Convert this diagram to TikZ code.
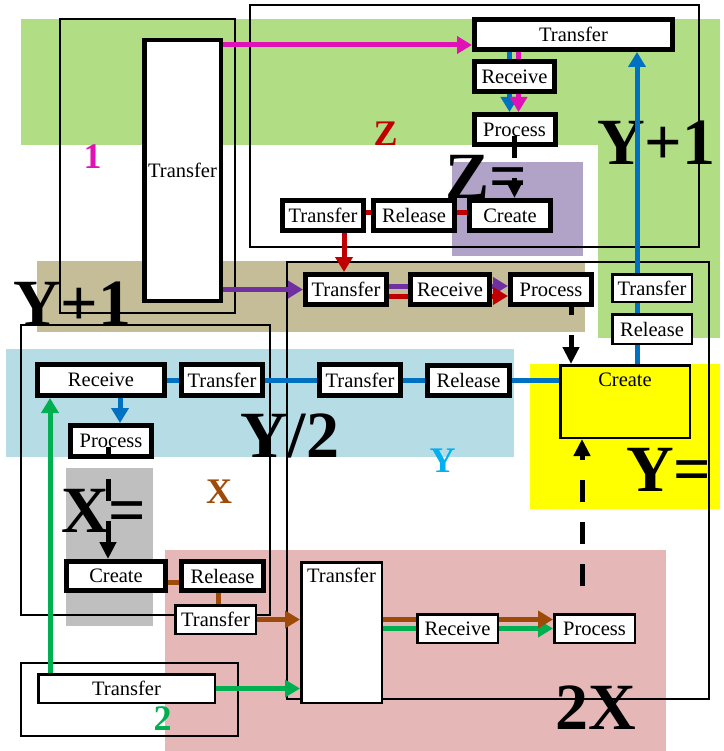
\documentclass[tikz,border=0pt]{standalone}
\usepackage{fontspec}
\setmainfont{Liberation Serif}
\usetikzlibrary{arrows.meta,positioning,backgrounds}
\definecolor{bandGreen}{RGB}{177,222,133}
\definecolor{bandLavender}{RGB}{177,162,199}
\definecolor{bandTan}{RGB}{196,189,151}
\definecolor{bandBlue}{RGB}{182,221,229}
\definecolor{bandYellow}{RGB}{255,255,0}
\definecolor{bandGray}{RGB}{191,191,191}
\definecolor{bandPink}{RGB}{229,184,183}
\definecolor{flowMagenta}{RGB}{224,18,182}
\definecolor{flowRed}{RGB}{192,0,0}
\definecolor{flowBrown}{RGB}{158,75,10}
\definecolor{flowGreen}{RGB}{0,176,80}
\definecolor{flowBlue}{RGB}{0,112,192}
\definecolor{flowPurple}{RGB}{112,48,160}
\definecolor{tagCyan}{RGB}{0,176,240}
\newcommand{\boxfont}{\fontsize{20.5}{24}\selectfont}
\newcommand{\bigfont}{\fontsize{66}{66}\selectfont\bfseries}
\newcommand{\tagfont}{\fontsize{36}{36}\selectfont\bfseries}

\begin{document}
\begin{tikzpicture}[
  x=1pt,y=-1pt,
  box/.style={draw,line width=5pt,fill=white,inner sep=2pt,minimum width=81pt,minimum height=30pt,font=\boxfont},
  thinbox/.style={draw,line width=2.5pt,fill=white,inner sep=2pt,minimum width=80.5pt,minimum height=28.5pt,font=\boxfont},
  zonebox/.style={draw,line width=2pt},
  flowline/.style={line width=5pt},
  arrow/.style={flowline,-{Triangle[length=15pt,width=17pt]}},
  dasharrow/.style={line width=5pt,dash pattern=on 22pt off 20pt,-{Triangle[length=17pt,width=16pt]}},
  biglabel/.style={font=\bigfont,inner sep=0pt,anchor=base west},
  tagtext/.style={font=\tagfont,inner sep=0pt,anchor=base}
]
\useasboundingbox (0,0) rectangle (723,751);
\begin{scope}[on background layer]
\fill[bandGreen] (21,19) rectangle (720,145);
\fill[bandGreen] (598,145) rectangle (720,338);
\fill[bandLavender] (452,162) rectangle (583,256);
\fill[bandTan] (37,261) rectangle (585,332);
\fill[bandBlue] (6,349) rectangle (514,457);
\fill[bandYellow] (530,364) rectangle (720,509);
\fill[bandGray] (66,468) rectangle (153,626);
\fill[bandPink] (165,550) rectangle (666,751);
\node[biglabel] (lblYplusR) at (597,165) {Y+1};
\node[biglabel] (lblYplusL) at (13,325) {Y+1};
\node[biglabel] (lblYhalf) at (240,457) {Y/2};
\node[biglabel] (lblZeq) at (445,199) {Z=};
\node[biglabel] (lblXeq) at (61,532) {X=};
\node[biglabel] (lblYeq) at (626,491) {Y=};
\node[biglabel] (lblTwoX) at (555,729) {2X};
\node[tagtext,flowMagenta] (tagOne) at (92.5,169) {1};
\node[tagtext,flowRed] (tagZ) at (385.5,146) {Z};
\node[tagtext,flowBrown] (tagX) at (219,503) {X};
\node[tagtext,tagCyan] (tagY) at (442.5,472) {Y};
\node[tagtext,flowGreen] (tagTwo) at (162.5,730) {2};
\draw[zonebox] (60,19) rectangle (235,313);
\draw[zonebox] (250,5) rectangle (699,247);
\draw[zonebox] (287,262) rectangle (709,699);
\draw[zonebox] (21,325) rectangle (270,615);
\draw[zonebox] (21,663) rectangle (238,736);
\end{scope}

\node[box,line width=4.5pt,minimum width=76.5pt,minimum height=260.5pt] (tallT) at (182.5,170.5) {Transfer};
\node[box,minimum width=198pt] (topT) at (573.5,34.5) {Transfer};
\node[box,minimum width=80pt] (recvZ) at (514.5,76.5) {Receive};
\node[box,below=18pt of recvZ] (procZ) {Process};
\node[box] (transZ) at (323,215.5) {Transfer};
\node[box,right=5pt of transZ] (relZ) {Release};
\node[box,right=10pt of relZ] (createZ) {Create};

\node[box] (transT) at (346,289.5) {Transfer};
\node[box,minimum width=79pt,right=19pt of transT] (recvT) {Receive};
\node[box,right=16pt of recvT] (procT) {Process};

\node[thinbox,minimum width=79.5pt,minimum height=27.5pt] (transR) at (652,288) {Transfer};
\node[thinbox,minimum width=79.5pt,minimum height=29.5pt,below=10pt of transR] (relR) {Release};
\node[thinbox,fill=bandYellow,minimum width=129.5pt,minimum height=72.5pt,
  label={[font=\boxfont,anchor=north,inner sep=0pt,yshift=-9pt]north:Create}] (createY) at (625,401.5) {};

\node[box,minimum width=127pt,minimum height=31pt] (recvY) at (101,380) {Receive};
\node[box,minimum height=31pt,right=12pt of recvY] (transYa) {Transfer};
\node[box,minimum height=31pt,right=52pt of transYa] (transYb) {Transfer};
\node[box,minimum width=82pt,right=22pt of transYb] (relY) {Release};
\node[box,minimum height=31pt] (procX) at (111,441) {Process};
\node[box,minimum width=99pt,minimum height=29pt] (createX) at (116,576) {Create};
\node[box,minimum width=82pt,minimum height=29pt,right=11pt of createX] (relX) {Release};
\node[thinbox] (transX) at (215.5,619.5) {Transfer};

\node[thinbox,minimum height=140.5pt,
  label={[font=\boxfont,anchor=north,inner sep=0pt,yshift=-7pt]north:Transfer}] (bigT) at (341.5,632.5) {};
\node[thinbox] (recvB) at (457.5,628.5) {Receive};
\node[thinbox,right=54pt of recvB] (procB) {Process};
\node[thinbox,minimum width=176.5pt] (bottomT) at (126.5,688.5) {Transfer};

\begin{scope}[on background layer]
\draw[arrow,flowMagenta] ([yshift=-7pt]tallT.north east) -- ([yshift=7pt]topT.south west);
\draw[flowline,flowBlue] ([xshift=-5pt]recvZ.north |- topT.south) -- ([xshift=-5pt]recvZ.north);
\draw[flowline,flowMagenta] ([xshift=4pt]recvZ.north |- topT.south) -- ([xshift=4pt]recvZ.north);
\draw[arrow,flowBlue] ([xshift=-5pt]recvZ.south) -- ([xshift=-5pt]recvZ.south |- procZ.north);
\draw[arrow,flowMagenta] ([xshift=4pt]recvZ.south) -- ([xshift=4pt]recvZ.south |- procZ.north);

\draw[flowline,flowRed] ([yshift=3pt]transZ.east) -- ([yshift=3pt]transZ.east -| relZ.west);
\draw[flowline,flowRed] ([yshift=3pt]relZ.east) -- ([yshift=3pt]relZ.east -| createZ.west);
\draw[arrow,flowRed] ([xshift=21pt]transZ.south) -- ([xshift=21pt]transZ.south |- transT.north);

\draw[arrow,flowPurple] (tallT.east |- transT.west) -- (transT.west);
\draw[flowline,flowPurple] ([yshift=3.5pt]transT.east) -- ([yshift=3.5pt]transT.east -| recvT.west);
\draw[flowline,flowRed] ([yshift=-6.5pt]transT.east) -- ([yshift=-6.5pt]transT.east -| recvT.west);
\draw[arrow,flowPurple] ([yshift=3.5pt]recvT.east) -- ([yshift=3.5pt]recvT.east -| procT.west);
\draw[arrow,flowRed] ([yshift=-6.5pt]recvT.east) -- ([yshift=-6.5pt]recvT.east -| procT.west);

\draw[flowline,flowBlue] (recvY.east) -- (recvY.east -| createY.west);
\draw[arrow,flowBlue] ([xshift=12pt]createY.north) -- ([xshift=12pt]createY.north |- topT.south);
\draw[arrow,flowBlue] ([xshift=19pt]recvY.south) -- ([xshift=19pt]recvY.south |- procX.north);

\draw[arrow,flowGreen] ([xshift=13pt]bottomT.north west) -- ([xshift=13pt]bottomT.north west |- recvY.south);
\draw[arrow,flowGreen] (bottomT.east) -- (bottomT.east -| bigT.west);
\draw[flowline,flowGreen] (recvB.west -| bigT.east) -- (recvB.west);
\draw[arrow,flowGreen] (recvB.east) -- (procB.west);

\draw[flowline,flowBrown] ([yshift=-6pt]createX.east) -- ([yshift=-6pt]createX.east -| relX.west);
\draw[flowline,flowBrown] ([xshift=-4pt]relX.south) -- ([xshift=-4pt]relX.south |- transX.north);
\draw[arrow,flowBrown] (transX.east) -- (transX.east -| bigT.west);
\draw[flowline,flowBrown] ([yshift=9pt]recvB.west -| bigT.east) -- ([yshift=9pt]recvB.west);
\draw[arrow,flowBrown] ([yshift=9pt]recvB.east) -- ([yshift=9pt]procB.west);
\end{scope}

\draw[dasharrow] ([yshift=11pt]procZ.south) -- (procZ.south |- createZ.north);
\draw[dasharrow,dash phase=14pt] ([xshift=20pt]procT.south) -- ([xshift=20pt]procT.south |- createY.north);
\draw[dasharrow,dash phase=10pt] ([xshift=-3pt,yshift=12pt]procX.south) -- ([xshift=-3pt]procX.south |- createX.north);
\coordinate (dashFoot) at (582,586);
\draw[dasharrow] (dashFoot) -- (dashFoot |- createY.south);
\end{tikzpicture}
\end{document}
